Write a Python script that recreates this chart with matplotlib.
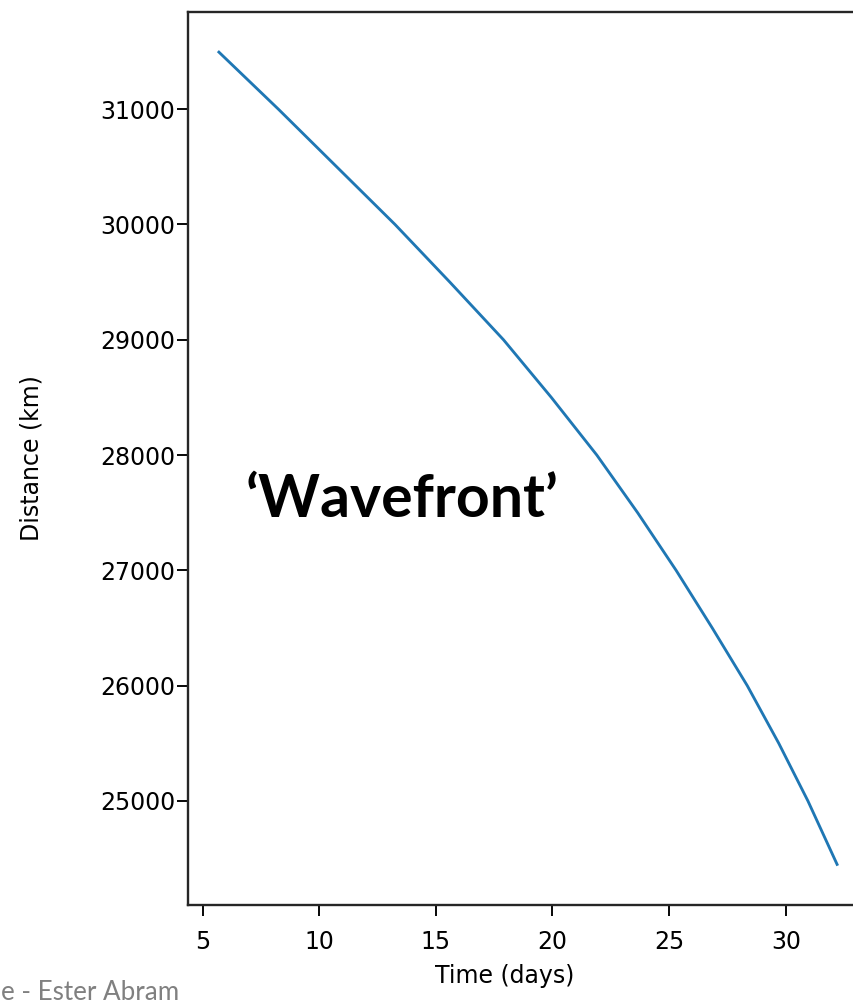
import matplotlib
matplotlib.use("Agg")
import matplotlib.pyplot as plt

# Data
time_days = [5.7, 8.25, 10.75, 13.25, 15.6, 17.9, 19.95, 21.9, 23.65, 25.3,
             26.85, 28.35, 29.7, 30.95, 32.2]
distance_km = [31495, 31000, 30500, 30000, 29500, 29000, 28500, 28000, 27500,
               27000, 26500, 26000, 25500, 25000, 24450]

xticks = [5, 10, 15, 20, 25, 30]
yticks = [25000, 26000, 27000, 28000, 29000, 30000, 31000]

DPI = 170
W, H = 853, 1003
fig = plt.figure(figsize=(W / DPI, H / DPI), dpi=DPI)
ax = fig.add_axes([188 / W, 1 - 905 / H, (868 - 188) / W, (905 - 11.5) / H])

ax.plot(time_days, distance_km, color="#1f77b4", linewidth=1.2)
ax.set_xticks(xticks)
ax.set_yticks(yticks)
ax.tick_params(axis="x", length=4.5, pad=6)
ax.tick_params(axis="y", length=4.5, pad=1)
ax.set_xlabel("Time (days)", labelpad=2)
ax.set_ylabel("Distance (km)", labelpad=24)
ax.xaxis.set_label_coords(0.466, -0.066)
for s in ax.spines.values():
    s.set_linewidth(1.0)
    s.set_color("#262626")

ax.text(402 / W, 1 - 500 / H, "\u2018Wavefront\u2019", transform=fig.transFigure,
        ha="center", va="center", fontsize=25, fontweight="bold",
        family=["Lato", "DejaVu Sans"], color="black")

fig.text(1 / W, 1 - 1000 / H, "e - Ester Abram", ha="left", va="baseline",
         fontsize=11, color="#808080", family=["Lato", "DejaVu Sans"])

fig.savefig("out.png", dpi=DPI)
